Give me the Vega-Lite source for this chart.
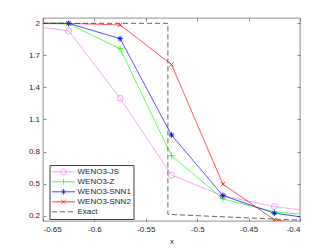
{
  "$schema": "https://vega.github.io/schema/vega-lite/v6.json",
  "width": 257,
  "height": 203,
  "autosize": {"type": "none"},
  "padding": {"left": 43, "top": 18, "right": 32, "bottom": 28},
  "background": "white",
  "config": {
    "view": {"stroke": "#404040", "strokeWidth": 0.6},
    "font": "Liberation Sans",
    "axis": {"grid": false, "domain": false, "tickColor": "#404040", "tickSize": -3, "tickWidth": 0.6, "labelFontSize": 8, "labelColor": "#262626", "labelFont": "Liberation Sans", "titleFont": "Liberation Sans", "titleFontSize": 8, "titleFontWeight": "normal", "titleColor": "#262626"},
    "legend": {"symbolSize": 529, "clipHeight": 9.6, "rowPadding": 0, "padding": 2, "strokeColor": "#404040", "fillColor": "white", "labelFontSize": 8, "labelFont": "Liberation Sans", "labelColor": "#262626", "labelOffset": 2, "symbolStrokeWidth": 0.75, "symbolOpacity": 1, "cornerRadius": 0, "labelLimit": 200}
  },
  "datasets": {
    "d": [
      {"s": "WENO3-JS", "x": -0.675, "y": 1.99, "i": 1},
      {"s": "WENO3-JS", "x": -0.625, "y": 1.93, "i": 2},
      {"s": "WENO3-JS", "x": -0.575, "y": 1.30, "i": 3},
      {"s": "WENO3-JS", "x": -0.525, "y": 0.58, "i": 4},
      {"s": "WENO3-JS", "x": -0.475, "y": 0.385, "i": 5},
      {"s": "WENO3-JS", "x": -0.425, "y": 0.285, "i": 6},
      {"s": "WENO3-JS", "x": -0.375, "y": 0.225, "i": 7},
      {"s": "WENO3-Z", "x": -0.675, "y": 2.0, "i": 1},
      {"s": "WENO3-Z", "x": -0.625, "y": 1.995, "i": 2},
      {"s": "WENO3-Z", "x": -0.575, "y": 1.762, "i": 3},
      {"s": "WENO3-Z", "x": -0.525, "y": 0.762, "i": 4},
      {"s": "WENO3-Z", "x": -0.475, "y": 0.357, "i": 5},
      {"s": "WENO3-Z", "x": -0.425, "y": 0.235, "i": 6},
      {"s": "WENO3-Z", "x": -0.375, "y": 0.193, "i": 7},
      {"s": "WENO3-SNN1", "x": -0.675, "y": 2.0, "i": 1},
      {"s": "WENO3-SNN1", "x": -0.625, "y": 2.0, "i": 2},
      {"s": "WENO3-SNN1", "x": -0.575, "y": 1.857, "i": 3},
      {"s": "WENO3-SNN1", "x": -0.525, "y": 0.955, "i": 4},
      {"s": "WENO3-SNN1", "x": -0.475, "y": 0.388, "i": 5},
      {"s": "WENO3-SNN1", "x": -0.425, "y": 0.223, "i": 6},
      {"s": "WENO3-SNN1", "x": -0.375, "y": 0.157, "i": 7},
      {"s": "WENO3-SNN2", "x": -0.675, "y": 2.0, "i": 1},
      {"s": "WENO3-SNN2", "x": -0.625, "y": 2.0, "i": 2},
      {"s": "WENO3-SNN2", "x": -0.575, "y": 1.985, "i": 3},
      {"s": "WENO3-SNN2", "x": -0.525, "y": 1.615, "i": 4},
      {"s": "WENO3-SNN2", "x": -0.475, "y": 0.495, "i": 5},
      {"s": "WENO3-SNN2", "x": -0.425, "y": 0.162, "i": 6},
      {"s": "WENO3-SNN2", "x": -0.375, "y": 0.09, "i": 7},
      {"s": "Exact", "x": -0.65, "y": 2.0, "i": 1},
      {"s": "Exact", "x": -0.5285, "y": 2.0, "i": 2},
      {"s": "Exact", "x": -0.5285, "y": 0.212, "i": 3},
      {"s": "Exact", "x": -0.4, "y": 0.158, "i": 4}
    ]
  },
  "data": {"name": "d"},
  "resolve": {"axis": {"x": "independent", "y": "independent"}},
  "layer": [
    {
      "mark": {"type": "line", "clip": true, "strokeWidth": 0.75},
      "encoding": {
        "x": {"field": "x", "type": "quantitative", "scale": {"domain": [-0.65, -0.4], "nice": false, "zero": false}, "axis": {"values": [-0.65, -0.6, -0.55, -0.5, -0.45, -0.4], "labelExpr": "toString(datum.value)", "labelPadding": 7, "title": "x", "titlePadding": 4}},
        "y": {"field": "y", "type": "quantitative", "scale": {"domain": [0.15, 2.05], "nice": false, "zero": false}, "axis": {"values": [0.2, 0.5, 0.8, 1.1, 1.4, 1.7, 2], "labelExpr": "toString(datum.value)", "labelPadding": 6.5, "title": null}},
        "color": {"field": "s", "type": "nominal", "scale": {"domain": ["WENO3-JS", "WENO3-Z", "WENO3-SNN1", "WENO3-SNN2", "Exact"], "range": ["#ee82ee", "#00ff00", "#0000ff", "#ff0000", "#333333"]}, "legend": {"title": null, "orient": "none", "legendX": 6.5, "legendY": 147}},
        "strokeDash": {"field": "s", "type": "nominal", "scale": {"domain": ["WENO3-JS", "WENO3-Z", "WENO3-SNN1", "WENO3-SNN2", "Exact"], "range": [[1, 0], [1, 0], [1, 0], [1, 0], [5, 3]]}, "legend": {"title": null, "orient": "none", "legendX": 6.5, "legendY": 147}},
        "order": {"field": "i", "type": "quantitative"}
      }
    },
    {
      "transform": [{"filter": "datum.s === 'WENO3-JS'"}],
      "mark": {"type": "point", "shape": "circle", "size": 36, "filled": false, "strokeWidth": 0.75, "opacity": 1, "clip": true},
      "encoding": {
        "x": {"field": "x", "type": "quantitative", "axis": null},
        "y": {"field": "y", "type": "quantitative", "axis": null},
        "color": {"field": "s", "type": "nominal", "legend": {"title": null, "orient": "none", "legendX": 6.5, "legendY": 147}}
      }
    },
    {
      "transform": [{"filter": "datum.s === 'WENO3-Z'"}],
      "mark": {"type": "point", "shape": "M-1,0L1,0M0,-1L0,1", "size": 36, "filled": false, "strokeWidth": 0.75, "opacity": 1, "clip": true},
      "encoding": {
        "x": {"field": "x", "type": "quantitative", "axis": null},
        "y": {"field": "y", "type": "quantitative", "axis": null},
        "color": {"field": "s", "type": "nominal", "legend": {"title": null, "orient": "none", "legendX": 6.5, "legendY": 147}}
      }
    },
    {
      "transform": [{"filter": "datum.s === 'WENO3-SNN1'"}],
      "mark": {"type": "point", "shape": "M-1,0L1,0M0,-1L0,1M-0.7,-0.7L0.7,0.7M-0.7,0.7L0.7,-0.7", "size": 30, "filled": false, "strokeWidth": 0.9, "opacity": 1, "clip": true},
      "encoding": {
        "x": {"field": "x", "type": "quantitative", "axis": null},
        "y": {"field": "y", "type": "quantitative", "axis": null},
        "color": {"field": "s", "type": "nominal", "legend": {"title": null, "orient": "none", "legendX": 6.5, "legendY": 147}}
      }
    },
    {
      "transform": [{"filter": "datum.s === 'WENO3-SNN2'"}],
      "mark": {"type": "point", "shape": "M-0.7,-0.7L0.7,0.7M-0.7,0.7L0.7,-0.7", "size": 36, "filled": false, "strokeWidth": 0.75, "opacity": 1, "clip": true},
      "encoding": {
        "x": {"field": "x", "type": "quantitative", "axis": null},
        "y": {"field": "y", "type": "quantitative", "axis": null},
        "color": {"field": "s", "type": "nominal", "legend": {"title": null, "orient": "none", "legendX": 6.5, "legendY": 147}}
      }
    },
    {
      "transform": [{"filter": "false"}],
      "mark": {"type": "point", "filled": false, "strokeWidth": 0.75, "opacity": 1},
      "encoding": {
        "x": {"field": "x", "type": "quantitative", "axis": null},
        "y": {"field": "y", "type": "quantitative", "axis": null},
        "color": {"field": "s", "type": "nominal", "legend": {"title": null, "orient": "none", "legendX": 6.5, "legendY": 147}},
        "shape": {"field": "s", "type": "nominal", "scale": {"domain": ["WENO3-JS", "WENO3-Z", "WENO3-SNN1", "WENO3-SNN2", "Exact"], "range": ["M-1,0L1,0M0.26,0A0.26,0.26,0,1,1,-0.26,0A0.26,0.26,0,1,1,0.26,0", "M-1,0L1,0M0,-0.26L0,0.26", "M-1,0L1,0M0,-0.24L0,0.24M-0.17,-0.17L0.17,0.17M-0.17,0.17L0.17,-0.17", "M-1,0L1,0M-0.19,-0.19L0.19,0.19M-0.19,0.19L0.19,-0.19", "M-1,0L1,0"]}, "legend": {"title": null, "orient": "none", "legendX": 6.5, "legendY": 147}},
        "strokeDash": {"field": "s", "type": "nominal", "legend": {"title": null, "orient": "none", "legendX": 6.5, "legendY": 147}}
      }
    },
    {
      "mark": {"type": "point", "opacity": 0},
      "encoding": {
        "x": {"field": "x", "type": "quantitative", "axis": {"orient": "top", "values": [-0.65, -0.6, -0.55, -0.5, -0.45, -0.4], "labels": false, "title": null}},
        "y": {"field": "y", "type": "quantitative", "axis": {"orient": "right", "values": [0.2, 0.5, 0.8, 1.1, 1.4, 1.7, 2], "labels": false, "title": null}}
      }
    }
  ]
}
